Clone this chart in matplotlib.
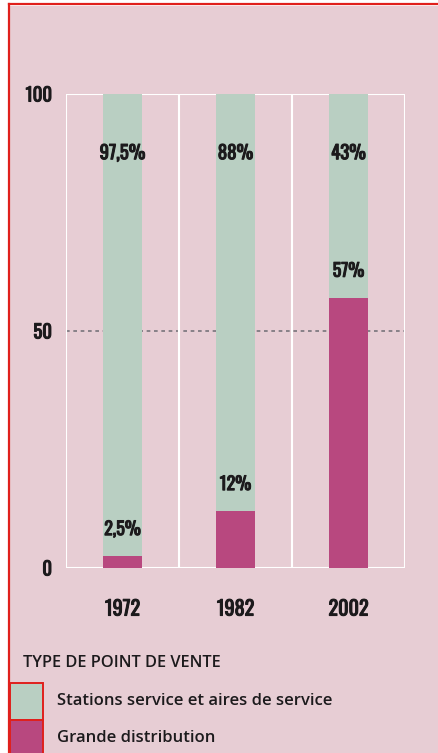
import matplotlib.pyplot as plt
import matplotlib.patheffects as pe
from matplotlib.patches import Rectangle
from matplotlib.lines import Line2D

years = ['1972', '1982', '2002']
grande = [2.5, 12, 57]
stations = [97.5, 88, 43]
grande_labels = ['2,5%', '12%', '57%']
stations_labels = ['97,5%', '88%', '43%']
yticks = [0, 50, 100]
legend_title = 'TYPE DE POINT DE VENTE'
legend_names = ['Stations service et aires de service', 'Grande distribution']

BG = '#e7cdd4'
GREEN = '#b9cfc2'
MAGENTA = '#b8487f'
RED = '#e0201c'
INK = '#1c1a1c'
NARROW = ['Oswald', 'Barlow Condensed', 'DejaVu Sans']
# Oswald comes in at regular weight, thicken it with a stroke
BOLD = [pe.withStroke(linewidth=0.75, foreground=INK)]

W, H = 438, 753
fig = plt.figure(figsize=(W / 100, H / 100), dpi=100)
fig.patch.set_facecolor('white')

# pink page with red frame on left and top
fig.patches.append(Rectangle((10 / W, 0), 1, 1 - 6 / H, transform=fig.transFigure,
                             facecolor=BG, edgecolor='none', zorder=-5))
fig.lines.append(Line2D([9 / W, 9 / W], [0, 1 - 4 / H], transform=fig.transFigure,
                        color=RED, lw=1.6, zorder=-4))
fig.lines.append(Line2D([9 / W, 1], [1 - 4 / H, 1 - 4 / H], transform=fig.transFigure,
                        color=RED, lw=1.6, zorder=-4))

ax = fig.add_axes([66 / W, 1 - 568 / H, (405 - 66) / W, (568 - 94) / H])
ax.set_facecolor(BG)
x = list(range(len(years)))
bw = 0.34

# dashed 50 line under bars
ax.axhline(50, color='#77737a', lw=1.2, ls=(0, (2.2, 2.2)), zorder=1)
ax.bar(x, grande, width=bw, color=MAGENTA, zorder=3)
ax.bar(x, stations, width=bw, bottom=grande, color=GREEN, zorder=3)

# white frame and dividers
for xv in [-0.5, 0.5, 1.5, 2.5]:
    ax.axvline(xv, color='white', lw=1.5, zorder=2)
for yv in [0, 100]:
    ax.axhline(yv, color='white', lw=1.5, zorder=2)

ax.set_xlim(-0.5, 2.5)
ax.set_ylim(0, 100)
for s in ax.spines.values():
    s.set_visible(False)
ax.set_yticks(yticks)
ax.set_yticklabels([str(v) for v in yticks], family=NARROW, fontweight='bold',
                   fontsize=13.5, color=INK, path_effects=BOLD)
ax.set_xticks(x)
ax.set_xticklabels(years, family=NARROW, fontweight='bold', fontsize=14.5, color=INK,
                   path_effects=BOLD)
ax.tick_params(length=0)
ax.tick_params(axis='y', pad=10)
ax.tick_params(axis='x', pad=22)

for i in x:
    ax.text(i, 87.5, stations_labels[i], ha='center', va='center', family=NARROW,
            fontweight='bold', fontsize=13.5, color=INK, zorder=4, path_effects=BOLD)
    ax.text(i, grande[i] + 5.7, grande_labels[i], ha='center', va='center', family=NARROW,
            fontweight='bold', fontsize=13, color=INK, zorder=4, path_effects=BOLD)

# legend
fig.text(23 / W, 1 - 663 / H, legend_title, ha='left', va='center',
         family='Open Sans', fontweight='semibold', fontsize=11.8, color=INK)
box_tops = [683, 720]
cols = [GREEN, MAGENTA]
for top, c, name in zip(box_tops, cols, legend_names):
    fig.patches.append(Rectangle((10 / W, 1 - (top + 37) / H), 33 / W, 37 / H,
                                 transform=fig.transFigure, facecolor=c,
                                 edgecolor=RED, lw=1.4, zorder=2))
    fig.text(57 / W, 1 - (top + 18) / H, name, ha='left', va='center',
             family='Open Sans', fontweight='semibold', fontsize=12, color=INK)

fig.savefig('out.png', dpi=100, facecolor=fig.get_facecolor())
